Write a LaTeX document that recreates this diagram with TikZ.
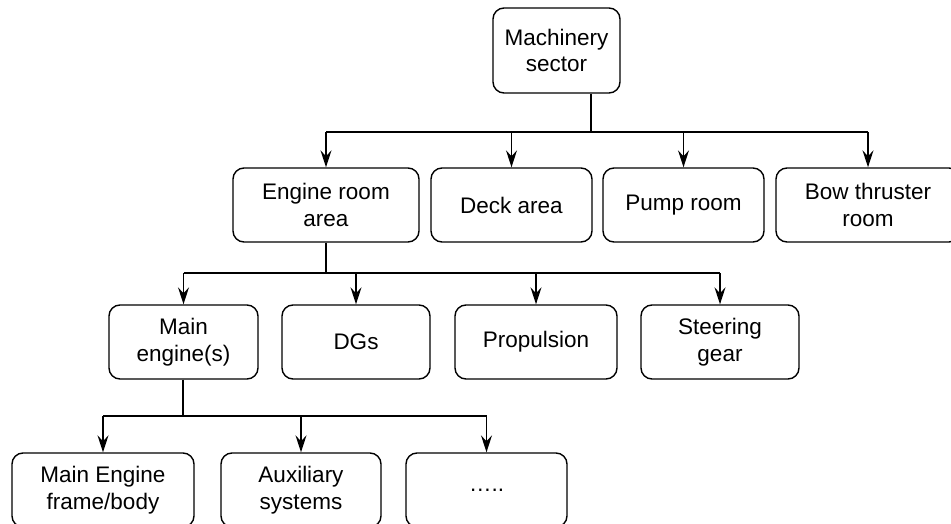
\documentclass[tikz,border=0pt]{standalone}
\usepackage{fontspec}
\setmainfont{Liberation Sans}
\usetikzlibrary{arrows.meta}
\begin{document}
\begin{tikzpicture}[x=1pt,y=-1pt,
  box/.style={draw, line width=1.4pt, rounded corners=11pt, inner sep=0pt,
    align=center, minimum height=74pt,
    font=\fontsize{22.5}{26.5}\selectfont},
  stem/.style={line width=2.4pt},
  conn/.style={line width=1.4pt, -{Stealth[length=17pt, width=11pt, inset=6pt]}},
  link/.style={line width=1.4pt}]
\useasboundingbox (0,0) rectangle (951,524);
\fill[white] (0,0) rectangle (951,524);
\clip (0,0) rectangle (951,524);

% top level
\node[box, minimum width=127pt, minimum height=85pt] (mach) at (556.5,50.5) {Machinery\\sector};

% areas
\node[box, minimum width=186pt] (eng)  at (326,205)   {Engine room\\area};
\node[box, minimum width=161pt] (deck) at (511.5,205) {Deck area};
\node[box, minimum width=161pt] (pump) at (683.5,205) {Pump room};
\node[box, minimum width=184pt] (bow)  at (868,205)   {Bow thruster\\room};

% engine room equipment
\node[box, minimum width=149pt] (me)    at (183.5,342) {Main\\engine(s)};
\node[box, minimum width=148pt] (dg)    at (356,342)   {DGs};
\node[box, minimum width=162pt] (prop)  at (536,342)   {Propulsion};
\node[box, minimum width=158pt] (steer) at (720,342)   {Steering\\gear};

% main engine parts
\node[box, minimum width=182pt] (frame) at (103,490)   {Main Engine\\frame/body};
\node[box, minimum width=160pt] (aux)   at (301,490)   {Auxiliary\\systems};
\node[box, minimum width=161pt] (more)  at (486.5,490) {…..};

% junctions
\coordinate (j1) at (591,132);
\coordinate (j2) at (326,273);
\coordinate (j3) at (183,416);

% level 1
\draw[stem] (mach.south -| j1) -- (j1);
\draw[link] (j1 -| eng.north) -- (j1 -| bow.north);
\foreach \c in {eng,deck,pump,bow}
  \draw[conn] (j1 -| \c.north) -- (\c.north);

% level 2
\draw[stem] (eng.south -| j2) -- (j2);
\draw[link] (j2 -| me.north) -- (j2 -| steer.north);
\foreach \c in {me,dg,prop,steer}
  \draw[conn] (j2 -| \c.north) -- (\c.north);

% level 3
\draw[stem] (me.south -| j3) -- (j3);
\draw[link] (j3 -| frame.north) -- (j3 -| more.north);
\foreach \c in {frame,aux,more}
  \draw[conn] (j3 -| \c.north) -- (\c.north);
\end{tikzpicture}
\end{document}
